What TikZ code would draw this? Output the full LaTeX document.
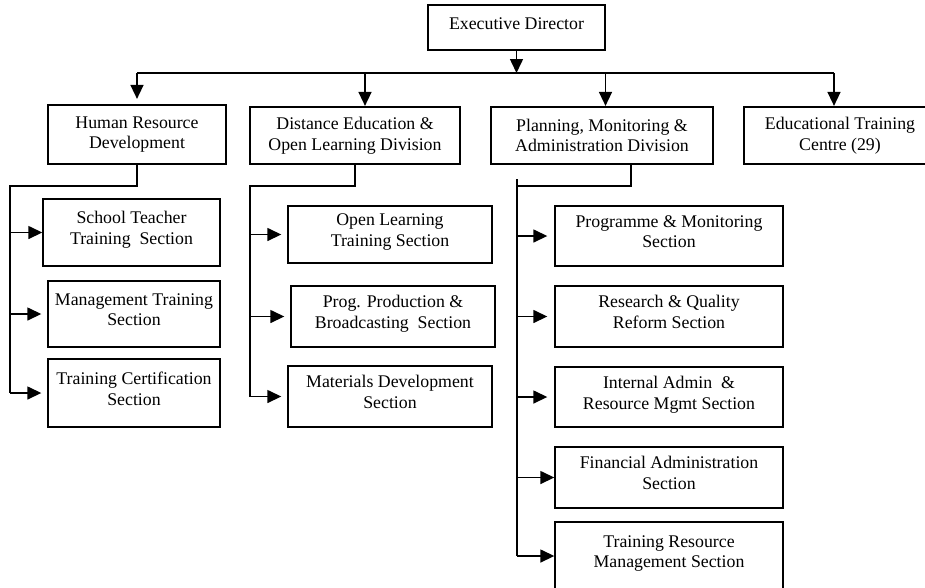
\documentclass[tikz,border=0pt]{standalone}
\usepackage{fontspec}
\setmainfont{Liberation Serif}
\usetikzlibrary{arrows.meta,positioning,calc}
\newcommand{\orgfont}{\fontsize{17.8}{20.7}\selectfont}
\tikzset{
  link/.style={draw=black, line width=1.5pt},
  arr/.style={link, -{Triangle[length=14pt,width=13pt]}},
  edbox/.style={draw=black, line width=1.4pt, align=center, font=\orgfont, inner sep=0pt},
  divbox/.style={edbox, line width=2.2pt},
  secbox/.style={edbox, line width=1.4pt, text depth=9pt},
}

\begin{document}
\begin{tikzpicture}[x=1pt,y=-1pt]
\useasboundingbox (0,0) rectangle (925,587);
% top
\node[edbox, minimum width=177pt, minimum height=45pt, text depth=7pt] (ed) at (516.5,27.5) {Executive Director};
\node[divbox, minimum width=178pt, minimum height=59pt] (hrd) at (137,134.5) {Human Resource\\Development};
\node[divbox, minimum width=210pt, minimum height=57pt] (ded) at (355,135.5) {Distance Education \&\\Open Learning Division};
\node[divbox, minimum width=222pt, minimum height=57pt] (pmd) at (602,135.5) {Planning, Monitoring \&\\Administration Division};
\node[divbox, minimum width=192pt, minimum height=57pt] (etc) at (840,135.5) {Educational Training\\Centre (29)};
% sections
\node[secbox, minimum width=177pt, minimum height=67pt] (st) at (131.5,232.5) {School Teacher\\Training\ \ Section};
\node[secbox, minimum width=172pt, minimum height=66pt] (mt) at (134,314) {Management Training\\Section};
\node[secbox, minimum width=172pt, minimum height=68pt] (tc) at (134,393) {Training Certification\\Section};
\node[secbox, minimum width=204pt, minimum height=57pt] (ol) at (390,234.5) {Open Learning\\Training Section};
\node[secbox, minimum width=204pt, minimum height=61pt] (pp) at (393,316.5) {Prog. Production \&\\Broadcasting\ \ Section};
\node[secbox, minimum width=204pt, minimum height=61pt] (md) at (390,396.5) {Materials Development\\Section};
\node[secbox, minimum width=228pt, minimum height=60pt] (pm) at (669,236) {Programme \& Monitoring\\Section};
\node[secbox, minimum width=228pt, minimum height=61pt] (rq) at (669,316.5) {Research \& Quality\\Reform Section};
\node[secbox, minimum width=228pt, minimum height=60pt] (ia) at (669,397) {Internal Admin\ \ \&\\Resource Mgmt Section};
\node[secbox, minimum width=228pt, minimum height=61pt] (fa) at (669,477.5) {Financial Administration\\Section};
\node[secbox, minimum width=228pt, minimum height=68pt] (tr) at (669,556) {Training Resource\\Management Section};

% executive to divisions
\coordinate (bus) at (516.5,73);
\coordinate (t1) at (137,73);
\coordinate (t2) at (365,73);
\coordinate (t3) at (605.5,73);
\coordinate (t4) at (834,73);
\draw[arr] (ed.south) -- (bus);
\draw[link] (t1) -- (t4);
\draw[arr, shorten >=5pt] (t1) -- (t1 |- hrd.north);
\foreach \t/\n in {t2/ded,t3/pmd,t4/etc}
  \draw[arr] (\t) -- (\t |- \n.north);

% human resource
\coordinate (hL) at (10,186);
\draw[link] (hrd.south) |- (hL) -- (hL |- tc.west);
\draw[arr] (hL |- st.west) -- (st.west);
\foreach \n in {mt,tc}
  \draw[arr, shorten >=6pt] (hL |- \n.west) -- (\n.west);

% distance education
\coordinate (dL) at (250,186);
\draw[link] (ded.south) |- (dL) -- (dL |- md.west);
\foreach \n in {ol,pp,md}
  \draw[arr] (dL |- \n.west) -- ($(\n.west |- \n.west)+(-6,0)$);

% planning
\coordinate (pL) at (517,186);
\coordinate (pTop) at (517,179);
\coordinate (pOut) at ($(pmd.south)+(29,0)$);
\draw[link] (pOut) |- (pL);
\draw[link] (pTop) -- (pTop |- tr.west);
\foreach \n in {pm,rq,ia}
  \draw[arr, shorten >=7pt] (pL |- \n.west) -- (\n.west);
\foreach \n in {fa,tr}
  \draw[arr] (pL |- \n.west) -- (\n.west);
\end{tikzpicture}
\end{document}
